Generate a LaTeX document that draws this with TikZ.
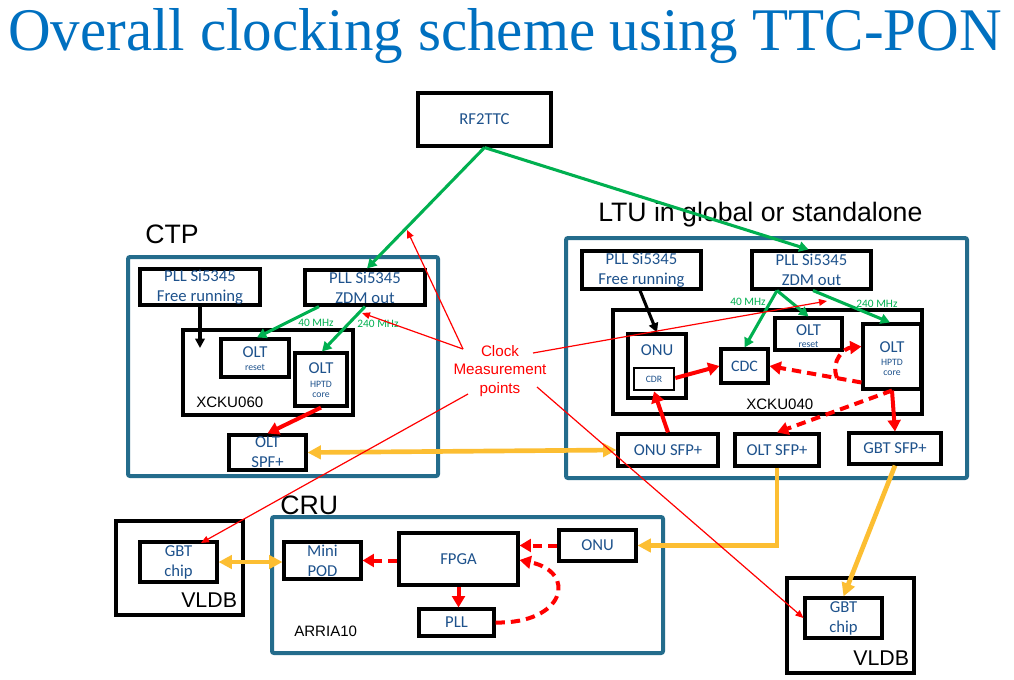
\documentclass[tikz,border=0pt]{standalone}
\usepackage{fontspec}
\usepackage{graphicx}
\usetikzlibrary{arrows.meta,calc,fit}
\newfontfamily\fcal{Carlito}
\newfontfamily\fari{Liberation Sans}
\newfontfamily\fser{Liberation Serif}
\definecolor{titleblue}{RGB}{0,112,192}
\definecolor{teal}{RGB}{36,108,140}
\definecolor{boxtext}{RGB}{30,82,140}
\definecolor{mygreen}{RGB}{0,176,80}
\definecolor{myyellow}{RGB}{252,190,50}
\tikzset{
  cont/.style={draw=teal, line width=3pt, rounded corners=1.5pt, inner sep=0pt},
  blk/.style={draw=black, line width=2.3pt, inner sep=0pt},
  bt/.style={text=boxtext, font=\fcal\fontsize{12.5}{15}\selectfont, align=center, inner sep=0pt},
  sm/.style={text=boxtext, font=\fcal\fontsize{7.3}{8}\selectfont, inner sep=0pt},
  head/.style={font=\fari\fontsize{20}{24}\selectfont, inner sep=0pt, anchor=base west},
  chipname/.style={font=\fari\fontsize{11.3}{13}\selectfont, inner sep=0pt, anchor=base west},
  freq/.style={text=mygreen, font=\fcal\fontsize{8.5}{10}\selectfont, inner sep=0pt},
  garr/.style={draw=mygreen, line width=2.3pt, -{Triangle[length=7pt,width=7.5pt]}},
  karr/.style={draw=black, line width=2.3pt, -{Triangle[length=7pt,width=7pt]}},
  rarr/.style={draw=red, line width=3pt, -{Triangle[length=8.5pt,width=9.5pt]}},
  rdash/.style={rarr, dash pattern=on 7pt off 4.5pt},
  tarr/.style={draw=red, line width=0.9pt, -{Triangle[length=6pt,width=5pt]}},
  yarr/.style={draw=myyellow, line width=3.5pt, -{Triangle[length=10pt,width=10pt]}},
  yarrb/.style={draw=myyellow, line width=3.5pt, {Triangle[length=10pt,width=10pt]}-{Triangle[length=10pt,width=10pt]}},
}
\begin{document}
\begin{tikzpicture}[x=0.75pt,y=-0.75pt]
\useasboundingbox (0,0) rectangle (1014,679);
\fill[white] (0,0) rectangle (1014,679);

% title
\node[anchor=base west, inner sep=0pt, text=titleblue] (title) at (8,50)
  {\resizebox{745pt}{31.5pt}{\fser Overall clocking scheme using TTC-PON}};

% section headings
\node[head] (ctplbl) at (145,243) {CTP};
\node[head] (ltulbl) at (598,221) {LTU in global or standalone};
\node[head] (crulbl) at (280,514) {CRU};

% containers
\node[cont, fit={(128,257)(438,476)}] (ctp) {};
\node[cont, fit={(566,238)(967,478)}] (ltu) {};
\node[cont, fit={(272,517)(663,653)}] (cru) {};

% top source
\node[blk, fit={(418,93)(551,146)}, label={[bt]center:RF2TTC}] (rf) {};

% CTP board
\node[blk, fit={(140,269)(260,305)}, label={[bt]center:{PLL Si5345\\Free running}}] (ctpfree) {};
\node[blk, fit={(305,270)(425,305)}, label={[bt]center:{PLL Si5345\\ZDM out}}] (ctpzdm) {};
\node[blk, fit={(183,330)(353,415)}] (xcku060) {};
\node[chipname] (xcku060lbl) at (196,407) {XCKU060};
\node[blk, fit={(221,339)(289,377)},
  label={[bt,yshift=4.5pt]center:OLT}, label={[sm,yshift=-6.8pt]center:reset}] (ctpreset) {};
\node[blk, fit={(295,353)(347,406)},
  label={[bt,yshift=8.6pt]center:OLT}, label={[sm,yshift=-3.4pt]center:HPTD},
  label={[sm,yshift=-11.6pt]center:core}] (ctphptd) {};
\node[blk, fit={(229,435)(306,470)}, label={[bt,align=center]center:{OLT\\SPF+}}] (ctpsfp) {};
\node[freq] (ctpf40) at (316,323) {40 MHz};
\node[freq] (ctpf240) at (378,324) {240 MHz};
\coordinate (ctpin) at (200,348);

% LTU board
\node[blk, fit={(582,251)(701,289)}, label={[bt]center:{PLL Si5345\\Free running}}] (ltufree) {};
\node[blk, fit={(752,251)(871,289)}, label={[bt]center:{PLL Si5345\\ZDM out}}] (ltuzdm) {};
\node[blk, fit={(613,310)(922,414)}] (xcku040) {};
\node[chipname] (xcku040lbl) at (746,409) {XCKU040};
\node[blk, fit={(628,334)(686,398)}, label={[bt,yshift=12pt]center:ONU}] (onu) {};
\node[blk, line width=2pt, fit={(634,368)(674,390)}, label={[sm]center:CDR}] (cdr) {};
\node[blk, fit={(721,349)(768,383)}, label={[bt,font=\fcal\fontsize{12}{14}\selectfont]center:CDC}] (cdc) {};
\node[blk, fit={(775,318)(842,350)},
  label={[bt,yshift=3pt]center:OLT}, label={[sm,yshift=-8.2pt]center:reset}] (lturst) {};
\node[blk, fit={(863,324)(921,389)},
  label={[bt,yshift=7.1pt]center:OLT}, label={[sm,yshift=-4.1pt]center:HPTD},
  label={[sm,yshift=-12.4pt]center:core}] (ltuhptd) {};
\node[blk, fit={(618,434)(718,466)}, label={[bt]center:ONU SFP+}] (onusfp) {};
\node[blk, fit={(735,434)(819,466)}, label={[bt]center:OLT SFP+}] (oltsfp) {};
\node[blk, fit={(849,433)(941,464)}, label={[bt]center:GBT SFP+}] (gbtsfp) {};
\node[freq] (ltuf40) at (748,302) {40 MHz};
\node[freq] (ltuf240) at (877,304) {240 MHz};
\coordinate (loopstart) at (837,378);

% CRU board
\node[blk, fit={(284,542)(361,579)}, label={[bt]center:{Mini\\POD}}] (minipod) {};
\node[blk, fit={(399,533)(518,585)}, label={[bt]center:FPGA}] (fpga) {};
\node[blk, fit={(559,530)(636,561)}, label={[bt]center:ONU}] (cruonu) {};
\node[blk, fit={(419,609)(494,636)}, label={[bt]center:PLL}] (pll) {};
\node[chipname] (arrialbl) at (294,636) {ARRIA10};

% front-end boards
\node[blk, fit={(116,521)(243,615)}] (vldbl) {};
\node[blk, fit={(140,542)(217,582)}, label={[bt]center:{GBT\\chip}}] (gbtl) {};
\node[head, font=\fari\fontsize{16}{18}\selectfont] (vldbllbl) at (181,607) {VLDB};
\node[blk, fit={(787,578)(914,673)}] (vldbr) {};
\node[blk, fit={(805,598)(882,638)}, label={[bt]center:{GBT\\chip}}] (gbtr) {};
\node[head, font=\fari\fontsize{16}{18}\selectfont] (vldbrlbl) at (853,665) {VLDB};

% measurement points label
\node[text=red, font=\fari\fontsize{11.4}{14}\selectfont, align=center, inner sep=0pt] (clk) at (500,371)
  {Clock\\Measurement\\points};
\coordinate (m1) at (463,349);
\coordinate (m1t) at (407,230);
\coordinate (m2t) at (362,313);
\coordinate (m3) at (533,353);
\coordinate (m3t) at (827,301);
\coordinate (m4) at (468,394);
\coordinate (m4t) at (201,543);
\coordinate (m5) at (537,387);

% clock distribution (green)
\draw[garr] (rf.south) -- ($(ctpzdm.north)+(2,0)$);
\draw[garr] (rf.south) -- ($(ltuzdm.north)+(-3,0)$);
\draw[garr] ($(ctpzdm.south)+(-46,0)$) -- ($(ctpreset.north)+(2,0)$);
\draw[garr] (ctpzdm.south) -- ($(ctphptd.north)+(1,0)$);
\draw[garr] ($(ltuzdm.south)+(-34.5,0)$) -- (cdc.north);
\draw[garr] ($(ltuzdm.south)+(-34.5,0)$) -- (lturst.north);
\draw[garr] ($(ltuzdm.south)+(1.5,0)$) -- ($(ltuhptd.north)+(-2,0)$);

% free-running references
\draw[karr] (ctpfree.south) -- (ctpin);
\draw[karr] ($(ltufree.south)+(-1.5,0)$) -- (onu.north);

% recovered / derived clocks (red)
\draw[rarr] (ctphptd.south) -- (ctpsfp.north);
\draw[rarr] ($(cdr.east)+(0,-1)$) -- (cdc.west);
\draw[rarr] (onusfp.north) -- (cdr.south);
\draw[rarr] (ltuhptd.south) -- (gbtsfp.north);
\draw[rdash] ($(ltuhptd.west)+(0,26)$) -- (cdc.east);
\draw[rdash] (loopstart) .. controls (830,360) and (845,348) .. ($(ltuhptd.west)+(0,-10)$);
\draw[rdash] (ltuhptd.south) -- (oltsfp.north);
\draw[rdash] (fpga.west |- minipod.east) -- (minipod.east);
\draw[rdash] (cruonu.west) -- (fpga.east |- cruonu.west);
\draw[rdash] (fpga.south) -- (fpga.south |- pll.north);
\draw[rdash] (pll.east) .. controls (565,624) and (578,572) .. ($(fpga.east)+(0,1)$);

% optical links (yellow)
\draw[yarrb] (ctpsfp.east) -- (onusfp.west);
\draw[yarr] (oltsfp.south) |- (cruonu.east);
\draw[yarr] (gbtsfp.south) -- (gbtr.north);
\draw[yarrb] (gbtl.east) -- (gbtl.east -| minipod.west);

% measurement pointers
\draw[tarr] (m1) -- (m1t);
\draw[tarr] (m1) -- (m2t);
\draw[tarr] (m3) -- (m3t);
\draw[tarr] (m4) -- (m4t);
\draw[tarr] (m5) -- (gbtr.west);
\end{tikzpicture}
\end{document}
